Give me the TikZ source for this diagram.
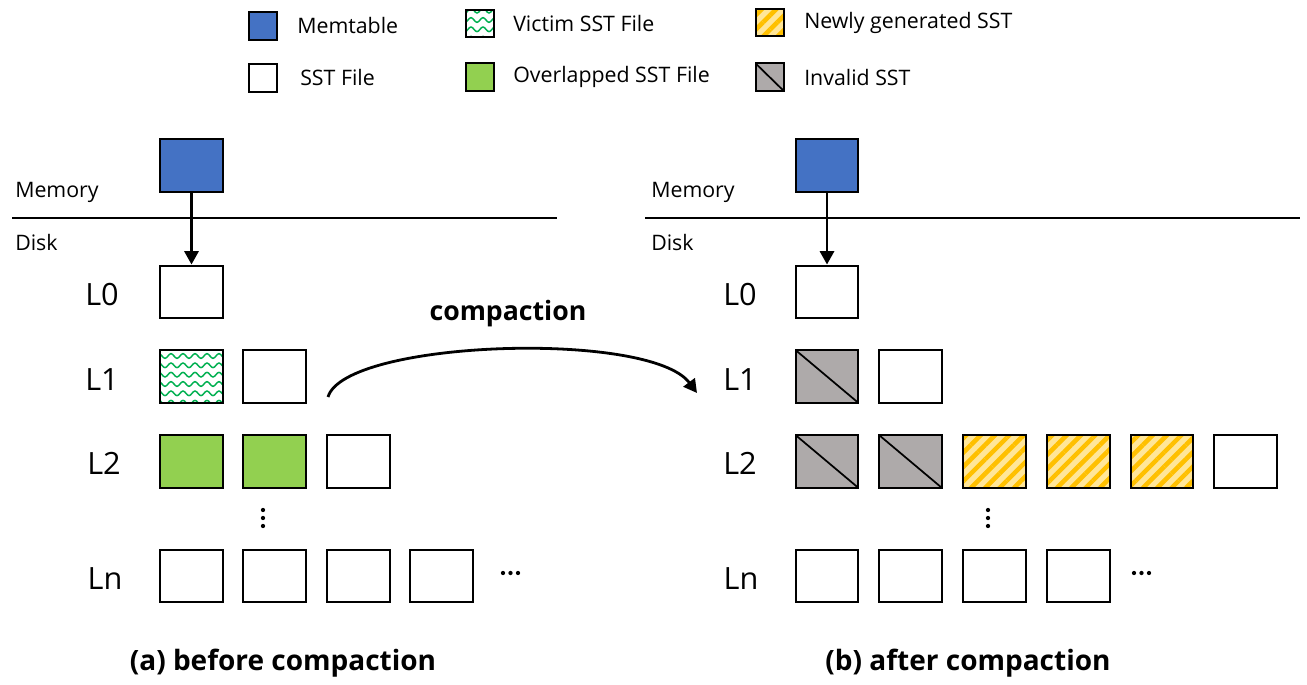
\documentclass[tikz,border=0pt]{standalone}
\usepackage{fontspec}
\setmainfont{Open Sans}
\usetikzlibrary{arrows.meta,patterns.meta}
\definecolor{memblue}{HTML}{4472C4}
\definecolor{ovgreen}{HTML}{92D050}
\definecolor{vicgreen}{HTML}{00B050}
\definecolor{newlight}{HTML}{FFE699}
\definecolor{neworange}{HTML}{FFC000}
\definecolor{invgray}{HTML}{AEAAAA}
\tikzdeclarepattern{
  name=wavylines,
  type=uncolored,
  bounding box={(-0.4pt,-2pt) and (9.4pt,6pt)},
  tile size={(9pt,7pt)},
  code={
    \draw[line width=1.1pt] (0pt,1.75pt) sin (2.25pt,3.5pt) cos (4.5pt,1.75pt) sin (6.75pt,0pt) cos (9pt,1.75pt);
  }
}
\tikzset{
  sst/.style={draw=black, line width=1.7pt, minimum width=47pt, minimum height=39.5pt, inner sep=0pt, fill=white},
  legbox/.style={draw=black, line width=1.5pt, minimum width=21pt, minimum height=20.5pt, inner sep=0pt, fill=white},
  mem/.style={fill=memblue},
  overl/.style={fill=ovgreen},
  victim/.style={fill=white, pattern={wavylines}, pattern color=vicgreen},
  newsst/.style={preaction={fill=newlight}, pattern={Lines[angle=45,distance=7.6pt,line width=3.4pt]}, pattern color=neworange},
  invalid/.style={fill=invgray, path picture={\draw[line width=1.3pt] (path picture bounding box.north west) -- (path picture bounding box.south east);}},
  legtxt/.style={anchor=west, inner sep=0pt, font=\fontsize{16}{19}\selectfont},
  areatxt/.style={anchor=west, inner sep=0pt, font=\fontsize{16}{19}\selectfont},
  lvl/.style={inner sep=0pt, font=\fontsize{23}{27}\selectfont},
  captxt/.style={inner sep=0pt, font=\bfseries\fontsize{21}{25}\selectfont},
  arr/.style={line width=2.1pt, -{Triangle[width=10.5pt,length=10pt]}},
  sep/.style={line width=1.3pt},
  dot/.style={fill=black, circle, inner sep=0pt, minimum size=3.2pt}
}
\begin{document}
\begin{tikzpicture}[x=0.75pt,y=-0.75pt]
\useasboundingbox[fill=white] (0,0) rectangle (1307,685);

% legend
\node[legbox, mem] (lg1) at (262.5,26) {};
\node[legtxt] (lt1) at (297,26) {Memtable};
\node[legbox, victim] (lg2) at (479.5,23.5) {};
\node[legtxt] (lt2) at (513,23.5) {Victim SST File};
\node[legbox, newsst] (lg3) at (769.5,22.5) {};
\node[legtxt] (lt3) at (804,22.5) {Newly generated SST};
\node[legbox] (lg4) at (262.5,78) {};
\node[legtxt] (lt4) at (300,78) {SST File};
\node[legbox, overl] (lg5) at (479.5,77) {};
\node[legtxt] (lt5) at (513,77) {Overlapped SST File};
\node[legbox, invalid] (lg6) at (769.5,77) {};
\node[legtxt] (lt6) at (804,77) {Invalid SST};

% ---------- left panel ----------
\coordinate (lsepA) at (12,218);
\coordinate (lsepB) at (557,218);
\draw[sep] (lsepA) -- (lsepB);
\node[areatxt] (lmemtxt) at (15,192) {Memory};
\node[areatxt] (ldisktxt) at (15,242) {Disk};
\node[sst, mem] (lmem) at (191.5,165.5) {};

\node[lvl] (lL0) at (102,295) {L0};
\node[lvl] (lL1) at (102,380) {L1};
\node[lvl] (lL2) at (104,463) {L2};
\node[lvl] (lLn) at (105,579) {Ln};

\node[sst] (a00) at (191.5,292) {};
\node[sst, victim] (a10) at (191.5,376.5) {};
\node[sst] (a11) at (274.5,376.5) {};
\node[sst, overl] (a20) at (191.5,461.5) {};
\node[sst, overl] (a21) at (274.5,461.5) {};
\node[sst] (a22) at (358.5,461.5) {};
\node[sst] (an0) at (191.5,576) {};
\node[sst] (an1) at (274.5,576) {};
\node[sst] (an2) at (358.5,576) {};
\node[sst] (an3) at (441.5,576) {};
\node[dot] (ah1) at (503,573) {};
\node[dot] (ah2) at (510.5,573) {};
\node[dot] (ah3) at (518,573) {};
\node[dot] (av1) at (263,510) {};
\node[dot] (av2) at (263,518) {};
\node[dot] (av3) at (263,526) {};

\draw[arr] (lmem.south) -- (a00.north);

% ---------- compaction arrow ----------
\coordinate (cs) at (328,397);
\coordinate (ce) at (697,393);
\draw[arr] (cs) .. controls (345,340) and (650,330) .. (ce);
\node[captxt, font=\bfseries\fontsize{20}{24}\selectfont] (ctxt) at (508,314) {compaction};

% ---------- right panel ----------
\coordinate (rsepA) at (645,218);
\coordinate (rsepB) at (1300,218);
\draw[sep] (rsepA) -- (rsepB);
\node[areatxt] (rmemtxt) at (651,192) {Memory};
\node[areatxt] (rdisktxt) at (651,242) {Disk};
\node[sst, mem] (rmem) at (827,165.5) {};

\node[lvl] (rL0) at (740,295) {L0};
\node[lvl] (rL1) at (740,380) {L1};
\node[lvl] (rL2) at (740,463) {L2};
\node[lvl] (rLn) at (741,579) {Ln};

\node[sst] (b00) at (827,292) {};
\node[sst, invalid] (b10) at (827,376.5) {};
\node[sst] (b11) at (910.5,376.5) {};
\node[sst, invalid] (b20) at (827,461.5) {};
\node[sst, invalid] (b21) at (910.5,461.5) {};
\node[sst, newsst] (b22) at (994.5,461.5) {};
\node[sst, newsst] (b23) at (1078.5,461.5) {};
\node[sst, newsst] (b24) at (1162,461.5) {};
\node[sst] (b25) at (1245.5,461.5) {};
\node[sst] (bn0) at (827,576) {};
\node[sst] (bn1) at (910.5,576) {};
\node[sst] (bn2) at (994.5,576) {};
\node[sst] (bn3) at (1078.5,576) {};
\node[dot] (bh1) at (1134,573) {};
\node[dot] (bh2) at (1141.5,573) {};
\node[dot] (bh3) at (1149,573) {};
\node[dot] (bv1) at (988,510) {};
\node[dot] (bv2) at (988,518) {};
\node[dot] (bv3) at (988,526) {};

\draw[arr] (rmem.south) -- (b00.north);

% captions
\node[captxt] (capa) at (283,663) {(a) before compaction};
\node[captxt] (capb) at (968,663) {(b) after compaction};
\end{tikzpicture}
\end{document}
